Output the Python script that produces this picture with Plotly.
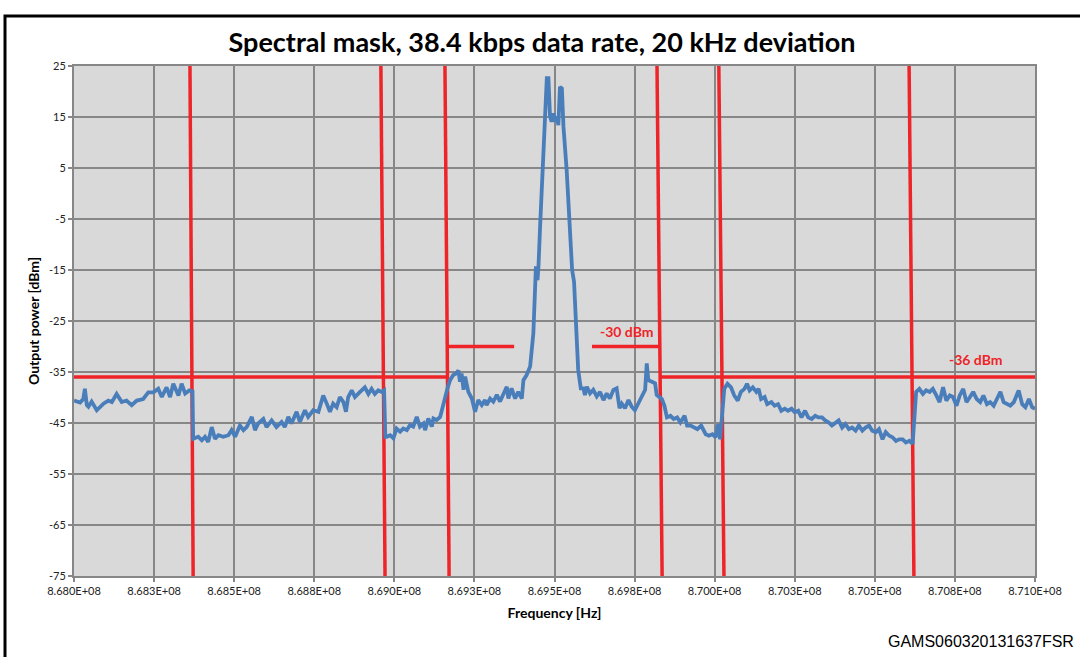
import plotly.graph_objects as go

# ---------------- data ----------------
freq_mhz = [
    868.000, 868.019, 868.029, 868.034, 868.040, 868.045, 868.055, 868.071, 868.092, 868.107,
    868.118, 868.133, 868.149, 868.164, 868.180, 868.196, 868.216, 868.232, 868.248, 868.263,
    868.274, 868.289, 868.300, 868.310, 868.326, 868.336, 868.347, 868.360, 868.370,
    868.372, 868.388, 868.399, 868.409, 868.419, 868.430, 868.440, 868.451, 868.466, 868.482,
    868.492, 868.503, 868.518, 868.529, 868.539, 868.555, 868.565, 868.575, 868.591, 868.601,
    868.617, 868.632, 868.648, 868.658, 868.669, 868.679, 868.695, 868.705, 868.721, 868.731,
    868.747, 868.763, 868.778, 868.789, 868.799, 868.809, 868.820, 868.830, 868.841, 868.849,
    868.856, 868.867, 868.877, 868.893, 868.908, 868.919, 868.929, 868.939, 868.950, 868.960,
    868.968,
    868.972, 868.976, 868.987, 868.997, 869.007, 869.018, 869.028, 869.039, 869.049, 869.059,
    869.070, 869.080, 869.091, 869.096, 869.106, 869.117, 869.122, 869.132, 869.143, 869.153,
    869.158, 869.166, 869.174, 869.184, 869.193, 869.200, 869.205, 869.210, 869.216, 869.221,
    869.231, 869.242, 869.252, 869.262, 869.273, 869.283, 869.288, 869.299, 869.309, 869.320,
    869.330, 869.340, 869.351, 869.356, 869.366, 869.377, 869.387, 869.398, 869.403, 869.413,
    869.424, 869.434, 869.439, 869.442, 869.447, 869.450, 869.455, 869.460, 869.467, 869.471,
    869.476, 869.481, 869.486, 869.491, 869.497, 869.502, 869.507, 869.512, 869.517, 869.523,
    869.528, 869.538, 869.549, 869.555, 869.561, 869.567, 869.574, 869.582,
    869.590, 869.595, 869.601, 869.611, 869.621, 869.632, 869.642, 869.653, 869.663, 869.673,
    869.684, 869.694, 869.703, 869.710, 869.720, 869.731, 869.741, 869.751, 869.762, 869.777,
    869.783, 869.788, 869.793, 869.804, 869.814, 869.819, 869.825, 869.835, 869.843, 869.851,
    869.862, 869.872, 869.883, 869.893, 869.906, 869.914, 869.925, 869.935, 869.946, 869.958,
    869.972, 869.982, 869.993, 870.003, 870.011, 870.017,
    870.030, 870.040, 870.051, 870.061, 870.072, 870.082, 870.093, 870.101, 870.109, 870.119,
    870.130, 870.137, 870.145, 870.156, 870.164, 870.177, 870.187, 870.198, 870.208, 870.219,
    870.229, 870.240, 870.250, 870.261, 870.271, 870.282, 870.292, 870.303, 870.314, 870.324,
    870.335, 870.345, 870.356, 870.366, 870.377, 870.387, 870.398, 870.408, 870.419, 870.429,
    870.440, 870.450, 870.461, 870.471, 870.482, 870.492, 870.503, 870.513, 870.524, 870.534,
    870.545, 870.555, 870.566, 870.576, 870.587, 870.597, 870.608, 870.618,
    870.629, 870.639, 870.650, 870.660, 870.671, 870.681, 870.692, 870.702, 870.713, 870.723,
    870.734, 870.744, 870.755, 870.765, 870.776, 870.786, 870.797, 870.807, 870.818, 870.829,
    870.839, 870.850, 870.860, 870.871, 870.881, 870.892, 870.902, 870.913, 870.923, 870.934,
    870.944, 870.949, 870.960, 870.970, 870.981, 870.991, 871.000,
]
power_dbm = [
    -40.6, -41.0, -40.3, -38.3, -41.5, -41.8, -40.8, -42.5, -41.2, -40.6,
    -40.9, -39.3, -40.9, -40.6, -41.5, -40.6, -40.3, -39.0, -39.0, -38.3,
    -39.9, -38.0, -39.9, -37.3, -39.6, -37.3, -39.2, -38.6, -38.8,
    -48.1, -47.7, -48.4, -47.7, -48.7, -45.8, -48.1, -47.4, -47.7, -47.4,
    -46.4, -47.7, -45.5, -46.4, -45.8, -43.8, -46.4, -45.1, -44.2, -45.8,
    -44.5, -45.8, -44.8, -45.8, -43.8, -45.1, -42.8, -44.8, -42.5, -43.8,
    -42.5, -42.8, -39.6, -41.2, -42.8, -41.2, -41.9, -39.9, -40.9, -42.8,
    -39.9, -38.6, -39.9, -38.9, -38.0, -39.3, -38.3, -39.3, -38.6, -38.9,
    -38.6,
    -47.7, -47.7, -47.4, -48.0, -46.1, -46.7, -46.1, -46.4, -45.4, -45.7,
    -43.8, -45.7, -45.1, -46.4, -44.1, -45.7, -44.1, -44.4, -43.8, -41.2,
    -40.2, -38.2, -36.6, -35.6, -35.3, -34.7, -36.9, -35.3, -38.5, -35.9,
    -38.9, -40.2, -42.8, -40.5, -41.5, -40.5, -41.5, -40.2, -40.8, -39.5,
    -40.8, -39.2, -37.9, -40.2, -38.2, -40.2, -38.9, -40.2, -36.6, -35.6,
    -33.9, -27.4, -19.6, -14.3, -17.0, -14.3, -6.5, 1.3, 9.8, 16.4,
    22.6, 22.6, 15.1, 14.1, 15.7, 14.1, 15.1, 13.4, 20.9, 20.6,
    13.1, 4.6, -6.5, -15.0, -17.3, -27.4, -34.6, -38.2,
    -38.2, -39.5, -37.9, -39.2, -38.5, -39.8, -38.9, -40.5, -39.2, -40.2,
    -38.5, -38.2, -42.1, -41.2, -42.1, -40.5, -41.8, -42.5, -41.2, -39.2,
    -38.5, -33.3, -36.6, -36.9, -37.2, -39.5, -39.9, -40.3, -41.6, -43.9,
    -43.6, -44.2, -43.9, -44.9, -43.6, -45.5, -45.5, -45.9, -46.2, -45.5,
    -47.2, -47.5, -47.2, -47.8, -45.2, -48.2,
    -38.3, -37.3, -38.0, -39.6, -40.6, -38.9, -38.3, -37.3, -38.6, -38.0,
    -38.9, -38.3, -40.3, -39.9, -41.3, -40.9, -41.6, -41.3, -42.6, -42.2,
    -42.6, -42.2, -42.9, -42.6, -43.9, -42.6, -43.9, -44.2, -43.6, -43.9,
    -43.9, -44.5, -44.9, -45.5, -44.9, -44.5, -45.9, -45.2, -46.2, -45.9,
    -46.5, -45.5, -46.5, -45.9, -45.5, -46.5, -46.8, -46.2, -48.2, -46.8,
    -47.5, -47.8, -48.5, -48.2, -48.2, -48.8, -48.5, -49.1,
    -38.9, -38.3, -39.3, -38.6, -38.9, -38.3, -39.6, -40.9, -38.0, -40.6,
    -39.6, -39.9, -41.6, -39.6, -38.3, -40.9, -39.9, -38.9, -40.3, -40.9,
    -39.6, -41.3, -40.9, -41.6, -40.3, -38.9, -40.9, -41.3, -41.6, -40.9,
    -39.6, -38.6, -41.3, -41.9, -40.3, -41.9, -42.2,
]

# spectral mask: vertical limit lines (frequency at top / bottom of the plot, MHz)
mask_vert_top_mhz = [868.362, 868.958, 869.158, 869.820, 870.013, 870.607]
mask_vert_bot_mhz = [868.372, 868.971, 869.171, 869.836, 870.029, 870.622]
mask_vert_y = [25, -75]

# horizontal limit segments: (start MHz, end MHz, level dBm)
mask_h_start_mhz = [868.000, 869.166, 869.617, 869.830]
mask_h_end_mhz = [869.164, 869.374, 869.826, 871.000]
mask_h_level = [-36, -30, -30, -36]

mask_labels = ["-30 dBm", "-36 dBm"]
mask_label_mhz = [869.725, 870.815]
mask_label_dbm = [-27.0, -32.6]

x_tick_hz = [868.0e6 + i * 0.25e6 for i in range(13)]
x_tick_text = ["8.680E+08", "8.683E+08", "8.685E+08", "8.688E+08", "8.690E+08",
               "8.693E+08", "8.695E+08", "8.698E+08", "8.700E+08", "8.703E+08",
               "8.705E+08", "8.708E+08", "8.710E+08"]
y_ticks = [25, 15, 5, -5, -15, -25, -35, -45, -55, -65, -75]
y_tick_text = ["25", "15", "5", "-5", "-15", "-25", "-35", "-45", "-55", "-65", "-75"]

title_text = "Spectral mask, 38.4 kbps data rate, 20 kHz deviation"
x_title = "Frequency [Hz]"
y_title = "Output power [dBm]"
footer_text = "GAMS060320131637FSR"

RED = "#ee2428"
BLUE = "#4a7ebb"

fig = go.Figure()

# mask vertical lines
for ft, fb in zip(mask_vert_top_mhz, mask_vert_bot_mhz):
    fig.add_trace(go.Scatter(x=[ft * 1e6, fb * 1e6], y=mask_vert_y, mode="lines",
                             line=dict(color=RED, width=3.5), showlegend=False,
                             hoverinfo="skip"))
# mask horizontal lines
for a, b, lv in zip(mask_h_start_mhz, mask_h_end_mhz, mask_h_level):
    fig.add_trace(go.Scatter(x=[a * 1e6, b * 1e6], y=[lv, lv], mode="lines",
                             line=dict(color=RED, width=3.5), showlegend=False,
                             hoverinfo="skip"))

# measured spectrum
fig.add_trace(go.Scatter(x=[f * 1e6 for f in freq_mhz], y=power_dbm, mode="lines",
                         line=dict(color=BLUE, width=3.8), showlegend=False))

for t, fx, fy in zip(mask_labels, mask_label_mhz, mask_label_dbm):
    fig.add_annotation(x=fx * 1e6, y=fy, text="<b>%s</b>" % t, showarrow=False,
                       font=dict(family="Lato", size=14, color=RED))

# frame around the figure
fig.add_shape(type="rect", xref="paper", yref="paper",
              x0=(5 - 74) / 961, x1=(1095 - 74) / 961,
              y0=(576 - 680) / 510, y1=(576 - 16) / 510,
              line=dict(color="black", width=3), fillcolor="rgba(0,0,0,0)", layer="below")

fig.add_annotation(xref="paper", yref="paper", x=(1076 - 74) / 961, y=(576 - 641) / 510,
                   xanchor="right", yanchor="middle", text=footer_text, showarrow=False,
                   font=dict(family="Liberation Sans", size=16, color="black"))

fig.update_layout(
    width=1080, height=657,
    margin=dict(l=74, r=45, t=66, b=81),
    paper_bgcolor="white",
    plot_bgcolor="#d9d9d9",
    title=dict(text="<b>%s</b>" % title_text, x=542 / 1080, xanchor="center",
               y=1 - 43 / 657, yanchor="middle",
               font=dict(family="Lato", size=27, color="black")),
    font=dict(family="Lato", size=11, color="#222222"),
)
fig.update_xaxes(range=[868.0e6, 871.0e6], tickvals=x_tick_hz, ticktext=x_tick_text,
                 showgrid=True, gridcolor="#878787", gridwidth=2,
                 showline=True, linecolor="#878787", linewidth=2,
                 ticks="outside", ticklen=4, tickcolor="#878787", tickwidth=2,
                 tickfont=dict(family="Lato", size=11, color="#222222"),
                 title=dict(text="<b>%s</b>" % x_title, standoff=12,
                            font=dict(family="Lato", size=14, color="black")),
                 zeroline=False, mirror=True)
fig.update_yaxes(range=[-75, 25], tickvals=y_ticks, ticktext=y_tick_text,
                 showgrid=True, gridcolor="#878787", gridwidth=2,
                 showline=True, linecolor="#878787", linewidth=2,
                 ticks="outside", ticklen=4, tickcolor="#878787", tickwidth=2,
                 tickfont=dict(family="Lato", size=11, color="#222222"),
                 title=dict(text="<b>%s</b>" % y_title, standoff=6,
                            font=dict(family="Lato", size=14, color="black")),
                 zeroline=False, mirror=True)

fig.write_html("out.html", post_script="document.body.style.margin='0';",
               config={"displayModeBar": False})
